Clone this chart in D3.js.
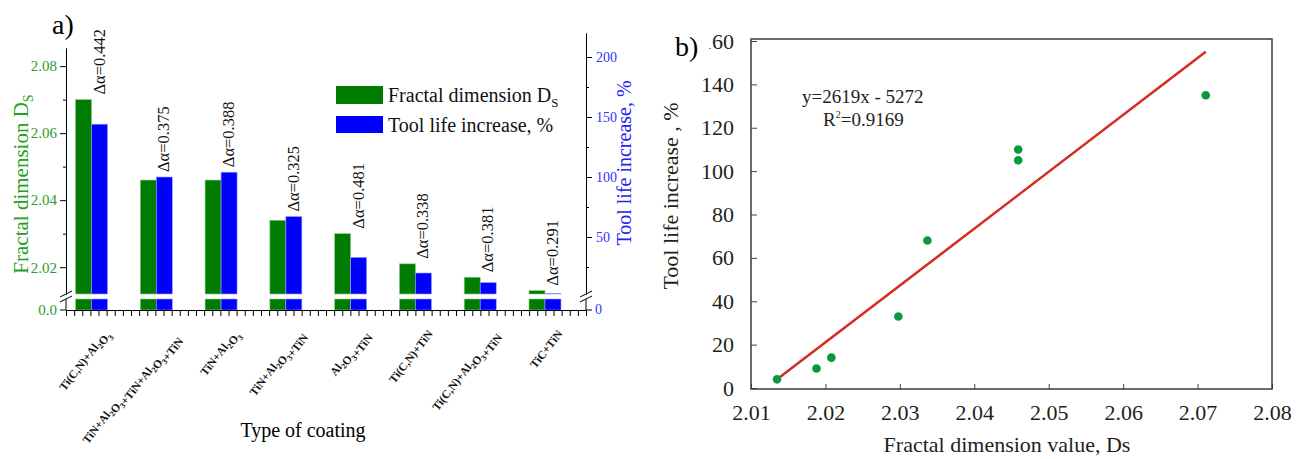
<!DOCTYPE html>
<html>
<head>
<meta charset="utf-8">
<script src="https://cdn.jsdelivr.net/npm/d3@7/dist/d3.min.js"></script>
<style>
    body { margin: 0; background: #fff; }
    svg text { font-family: "Liberation Serif", "Times New Roman", serif; }
</style>
</head>
<body>
<svg id="chart" width="1304" height="459"></svg>
<script>
// ---- panel a) data
var coatings = ['Ti(C,N)+Al_2O_3', 'TiN+Al_2O_3+TiN+Al_2O_3+TiN', 'TiN+Al_2O_3', 'TiN+Al_2O_3+TiN',
    'Al_2O_3+TiN', 'Ti(C,N)+TiN', 'Ti(C,N)+Al_2O_3+TiN', 'TiC+TiN'];
var fractalDim = [2.070, 2.046, 2.046, 2.034, 2.030, 2.021, 2.017, 2.013];
var toolLife = [144, 100, 104, 67, 33, 20, 12, 3];
var deltaAlpha = ['0.442', '0.375', '0.388', '0.325', '0.481', '0.338', '0.381', '0.291'];
var leftTicks = [2.02, 2.04, 2.06, 2.08];
var leftMinor = [2.03, 2.05, 2.07];
var rightTicks = [50, 100, 150, 200];
var rightMinor = [25, 75, 125, 175];

// ---- panel b) data
var dsValues = [2.0135, 2.0188, 2.0208, 2.0298, 2.0337, 2.0459, 2.0459, 2.0711];
var lifeValues = [4, 9, 14, 33, 68, 110, 105, 135];
var fitX = [2.0135, 2.0711];
var fitY = [4, 155];
var bxTicks = [2.01, 2.02, 2.03, 2.04, 2.05, 2.06, 2.07, 2.08];
var byTicks = [0, 20, 40, 60, 80, 100, 120, 140, 160];

var GREEN = '#007d00', BLUE = '#0000ff';
var svg = d3.select('#chart');

// ================= panel a =================
var a = svg.append('g');
var xLeft = 66, xRight = 586, yBase = 310, breakTop = 294, breakBot = 299;

var xCat = d3.scalePoint().domain(coatings).range([91.5, 545]);
var xTick = d3.scaleLinear().domain([0, 64]).range([xLeft, xRight]);
var yL = d3.scaleLinear().domain([2.012, 2.0854]).range([breakTop, 48]);
var yR = d3.scaleLinear().domain([2.5, 220]).range([breakTop, 33]);
var barW = 16;

// bars, upper part
coatings.forEach(function(c, i) {
    var cx = xCat(c);
    a.append('rect')
        .attr('x', cx - barW).attr('y', yL(fractalDim[i]))
        .attr('width', barW).attr('height', breakTop - yL(fractalDim[i]))
        .attr('fill', GREEN).attr('stroke', '#8fc88f').attr('stroke-width', 0.6);
    a.append('rect')
        .attr('x', cx).attr('y', yR(toolLife[i]))
        .attr('width', barW).attr('height', breakTop - yR(toolLife[i]))
        .attr('fill', BLUE).attr('stroke', '#9999ff').attr('stroke-width', 0.6);
    // lower part below the break
    a.append('rect')
        .attr('x', cx - barW).attr('y', breakBot)
        .attr('width', barW).attr('height', yBase - breakBot)
        .attr('fill', GREEN).attr('stroke', '#8fc88f').attr('stroke-width', 0.6);
    a.append('rect')
        .attr('x', cx).attr('y', breakBot)
        .attr('width', barW).attr('height', yBase - breakBot)
        .attr('fill', BLUE).attr('stroke', '#9999ff').attr('stroke-width', 0.6);

    // delta alpha labels
    var top = Math.min(yL(fractalDim[i]), yR(toolLife[i]));
    a.append('text')
        .attr('transform', 'translate(' + (cx + 13) + ',' + (top - 5) + ') rotate(-90)')
        .attr('font-size', 16.5)
        .attr('fill', '#111')
        .text('\u0394\u03b1=' + deltaAlpha[i]);
});

// x axis
var xAxis = d3.axisBottom(xTick).tickValues(d3.range(65)).tickFormat('')
    .tickSizeInner(6).tickSizeOuter(0);
a.append('g').attr('transform', 'translate(0,' + yBase + ')').call(xAxis);

// left axis (upper segment)
var gl = a.append('g').attr('transform', 'translate(' + xLeft + ',0)')
    .call(d3.axisLeft(yL).tickValues(leftTicks).tickSizeInner(6).tickSizeOuter(0)
        .tickPadding(3).tickFormat(d3.format('.2f')));
a.append('g').attr('transform', 'translate(' + xLeft + ',0)')
    .call(d3.axisLeft(yL).tickValues(leftMinor).tickSizeInner(3).tickSizeOuter(0).tickFormat(''));
gl.selectAll('text').attr('fill', '#2e9a2e').attr('font-size', 15);

// right axis (upper segment)
var gr = a.append('g').attr('transform', 'translate(' + xRight + ',0)')
    .call(d3.axisRight(yR).tickValues(rightTicks).tickSizeInner(6).tickSizeOuter(0).tickPadding(4));
a.append('g').attr('transform', 'translate(' + xRight + ',0)')
    .call(d3.axisRight(yR).tickValues(rightMinor).tickSizeInner(3).tickSizeOuter(0).tickFormat(''));
gr.selectAll('text').attr('fill', '#3333ff').attr('font-size', 14);

// lower segments + zero ticks
[[xLeft, -1, '0.0', '#2e9a2e', 'end'], [xRight, 1, '0', '#3333ff', 'start']].forEach(function(s) {
    a.append('line').attr('x1', s[0]).attr('x2', s[0]).attr('y1', breakBot).attr('y2', yBase)
        .attr('stroke', '#000');
    a.append('line').attr('x1', s[0]).attr('x2', s[0] + s[1] * 6).attr('y1', yBase).attr('y2', yBase)
        .attr('stroke', '#000');
    a.append('text').attr('x', s[0] + s[1] * 9).attr('y', yBase).attr('dy', '0.32em')
        .attr('text-anchor', s[4]).attr('font-size', s[0] === xLeft ? 15 : 14)
        .attr('fill', s[3]).text(s[2]);
    // break marks
    a.append('line').attr('x1', s[0] - 6).attr('y1', breakTop + 3).attr('x2', s[0] + 6).attr('y2', breakTop - 3)
        .attr('stroke', '#000');
    a.append('line').attr('x1', s[0] - 6).attr('y1', breakBot + 3).attr('x2', s[0] + 6).attr('y2', breakBot - 3)
        .attr('stroke', '#000');
});

// category labels with subscripts
function addChem(textSel, label, sub) {
    label.split(/(_\d)/).forEach(function(part) {
        if (!part) return;
        if (part.charAt(0) === '_') {
            textSel.append('tspan').attr('dy', sub).attr('font-size', '0.7em').text(part.charAt(1));
            textSel.append('tspan').attr('dy', -sub).text('');
        } else {
            textSel.append('tspan').text(part);
        }
    });
}
coatings.forEach(function(c) {
    var t = a.append('text')
        .attr('transform', 'translate(' + (xCat(c) + 18) + ',334) rotate(-52)')
        .attr('text-anchor', 'end')
        .attr('font-size', 11.5)
        .attr('font-weight', 'bold')
        .attr('fill', '#111');
    addChem(t, c, 3);
});

// axis titles
a.append('text').attr('x', 303).attr('y', 437).attr('text-anchor', 'middle')
    .attr('font-size', 20).text('Type of coating');
var lt = a.append('text').attr('transform', 'translate(28,184) rotate(-90)')
    .attr('text-anchor', 'middle').attr('font-size', 21).attr('fill', '#22a022');
lt.append('tspan').text('Fractal dimension D');
lt.append('tspan').attr('dy', 5).attr('font-size', 14).text('S');
a.append('text').attr('transform', 'translate(631,163) rotate(-90)')
    .attr('text-anchor', 'middle').attr('font-size', 20).attr('fill', '#2222ee')
    .text('Tool life increase, %');

// legend
a.append('rect').attr('x', 336).attr('y', 86).attr('width', 47).attr('height', 18).attr('fill', GREEN);
a.append('rect').attr('x', 336).attr('y', 116).attr('width', 47).attr('height', 17).attr('fill', BLUE);
var l1 = a.append('text').attr('x', 388).attr('y', 102).attr('font-size', 20).attr('fill', '#111');
l1.append('tspan').text('Fractal dimension D');
l1.append('tspan').attr('dy', 5).attr('font-size', 13).text('S');
a.append('text').attr('x', 388).attr('y', 132).attr('font-size', 20).attr('fill', '#111')
    .text('Tool life increase, %');

a.append('text').attr('x', 52).attr('y', 34).attr('font-size', 28).text('a)');

// ================= panel b =================
var b = svg.append('g');
var bx = d3.scaleLinear().domain([2.01, 2.08]).range([751, 1272]);
var by = d3.scaleLinear().domain([0, 160]).range([388, 41]);
var INK = '#231f20';

var gbx = b.append('g').attr('transform', 'translate(0,389)')
    .call(d3.axisBottom(bx).tickValues(bxTicks).tickSizeInner(-5).tickSizeOuter(0)
        .tickPadding(15).tickFormat(d3.format('.2f')));
var gby = b.append('g').attr('transform', 'translate(751,0)')
    .call(d3.axisLeft(by).tickValues(byTicks).tickSizeInner(-6).tickSizeOuter(0).tickPadding(17));
[gbx, gby].forEach(function(g) {
    g.selectAll('text').attr('font-size', 22).attr('fill', INK);
    g.selectAll('line').attr('stroke', '#444');
    g.select('.domain').remove();
});

b.append('rect').attr('x', 751).attr('y', 39).attr('width', 521).attr('height', 350)
    .attr('fill', 'none').attr('stroke', '#3a3a3a').attr('stroke-width', 1.5);

// fitted line
var fitLine = d3.line().x(function(d) { return bx(d[0]); }).y(function(d) { return by(d[1]); });
b.append('path').attr('d', fitLine(d3.zip(fitX, fitY)))
    .attr('stroke', '#d62a1e').attr('stroke-width', 2.5).attr('fill', 'none');

// points
b.selectAll('circle').data(d3.zip(dsValues, lifeValues)).enter().append('circle')
    .attr('cx', function(d) { return bx(d[0]); })
    .attr('cy', function(d) { return by(d[1]); })
    .attr('r', 4.3)
    .attr('fill', '#0a9a3e');

// equation
b.append('text').attr('x', 802).attr('y', 103).attr('font-size', 19).attr('fill', INK)
    .text('y=2619x - 5272');
var r2 = b.append('text').attr('x', 823).attr('y', 126).attr('font-size', 19).attr('fill', INK);
r2.append('tspan').text('R');
r2.append('tspan').attr('dy', -8).attr('font-size', 10).text('2');
r2.append('tspan').attr('dy', 8).text('=0.9169');

// titles
b.append('text').attr('x', 1007).attr('y', 452).attr('text-anchor', 'middle')
    .attr('font-size', 22).attr('fill', INK).text('Fractal dimension value, Ds');
b.append('text').attr('transform', 'translate(678,196) rotate(-90)').attr('text-anchor', 'middle')
    .attr('font-size', 22).attr('fill', INK).text('Tool life increase , %');

// "b)" sits on a white patch over the first digit of 160
b.append('rect').attr('x', 672).attr('y', 24).attr('width', 37).attr('height', 38).attr('fill', '#fff');
b.append('text').attr('x', 675).attr('y', 56).attr('font-size', 28).text('b)');
</script>
</body>
</html>
